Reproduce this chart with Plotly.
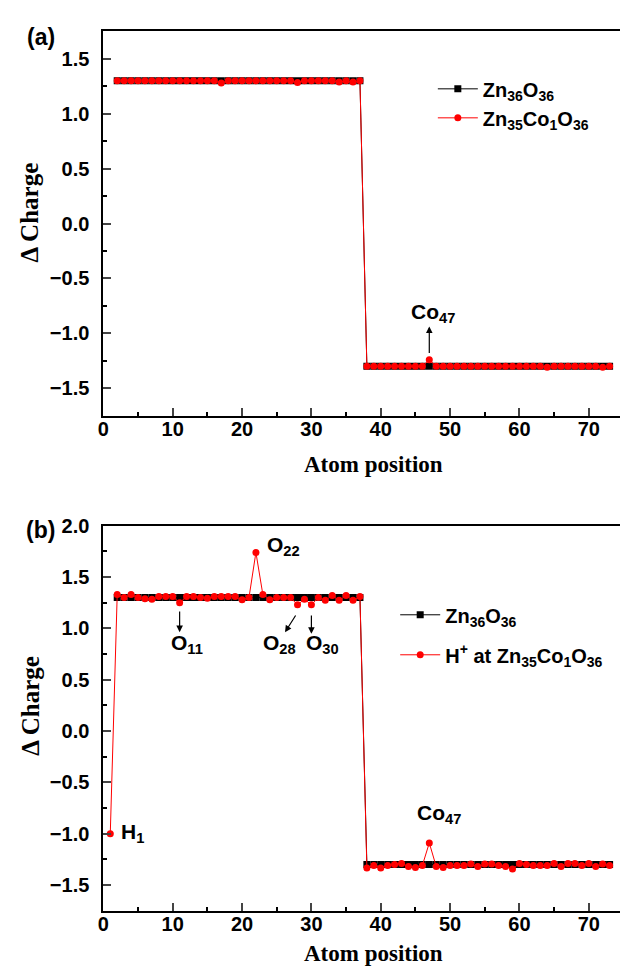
import plotly.graph_objects as go

# ---- data -------------------------------------------------------------
# atom index along the supercell (site 1 is the proton in panel b)
atoms_zno = list(range(2, 74))
atoms_h = list(range(1, 74))

# panel (a): pristine Zn36O36 vs. Co-doped Zn35Co1O36
charge_zno = [
    1.30, 1.30, 1.30, 1.30, 1.30, 1.30, 1.30, 1.30, 1.30, 1.30, 1.30, 1.30,
    1.30, 1.30, 1.30, 1.30, 1.30, 1.30, 1.30, 1.30, 1.30, 1.30, 1.30, 1.30,
    1.30, 1.30, 1.30, 1.30, 1.30, 1.30, 1.30, 1.30, 1.30, 1.30, 1.30, 1.30,
    -1.30, -1.30, -1.30, -1.30, -1.30, -1.30, -1.30, -1.30, -1.30, -1.30, -1.30, -1.30,
    -1.30, -1.30, -1.30, -1.30, -1.30, -1.30, -1.30, -1.30, -1.30, -1.30, -1.30, -1.30,
    -1.30, -1.30, -1.30, -1.30, -1.30, -1.30, -1.30, -1.30, -1.30, -1.30, -1.30, -1.30,
]
charge_co = [
    1.30, 1.30, 1.30, 1.30, 1.30, 1.30, 1.30, 1.30, 1.30, 1.30, 1.30, 1.30,
    1.30, 1.30, 1.30, 1.28, 1.30, 1.30, 1.30, 1.30, 1.30, 1.30, 1.30, 1.30,
    1.30, 1.30, 1.285, 1.30, 1.30, 1.30, 1.30, 1.30, 1.29, 1.30, 1.29, 1.30,
    -1.30, -1.30, -1.30, -1.30, -1.30, -1.30, -1.30, -1.30, -1.30, -1.24, -1.30, -1.30,
    -1.30, -1.30, -1.30, -1.30, -1.30, -1.30, -1.30, -1.30, -1.30, -1.30, -1.30, -1.30,
    -1.30, -1.30, -1.31, -1.30, -1.30, -1.30, -1.30, -1.30, -1.30, -1.30, -1.31, -1.30,
]

# panel (b): proton at site 1 of the Co-doped cell
charge_h = [
    -1.00,
    1.33, 1.30, 1.33, 1.30, 1.29, 1.285, 1.31, 1.31, 1.31, 1.25, 1.31, 1.31,
    1.30, 1.295, 1.31, 1.31, 1.31, 1.31, 1.28, 1.30, 1.74, 1.33, 1.28, 1.30,
    1.30, 1.30, 1.23, 1.285, 1.23, 1.30, 1.275, 1.32, 1.275, 1.32, 1.275, 1.31,
    -1.335, -1.31, -1.335, -1.31, -1.30, -1.29, -1.32, -1.33, -1.31, -1.09, -1.32, -1.33,
    -1.31, -1.31, -1.31, -1.295, -1.32, -1.295, -1.295, -1.31, -1.32, -1.345, -1.29, -1.30,
    -1.31, -1.31, -1.31, -1.29, -1.32, -1.29, -1.29, -1.31, -1.29, -1.32, -1.295, -1.31,
]

x_ticks = [0, 10, 20, 30, 40, 50, 60, 70]
y_ticks_a = [-1.5, -1.0, -0.5, 0.0, 0.5, 1.0, 1.5]
y_ticks_b = [-1.5, -1.0, -0.5, 0.0, 0.5, 1.0, 1.5, 2.0]

name_zno = "Zn<sub>36</sub>O<sub>36</sub>"
name_co = "Zn<sub>35</sub>Co<sub>1</sub>O<sub>36</sub>"
name_h = "H<sup>+</sup> at Zn<sub>35</sub>Co<sub>1</sub>O<sub>36</sub>"

# ---- styling ----------------------------------------------------------
SANS = "Liberation Sans, Arial, Helvetica, sans-serif"
SERIF = "Liberation Serif, Times New Roman, serif"
RED = "#ff0000"
W, H = 620, 968

fig = go.Figure()


def add_pair(xref, yref, legend, red_x, red_y, red_name):
    fig.add_trace(go.Scatter(
        x=atoms_zno, y=charge_zno, mode="lines+markers", name=name_zno,
        xaxis=xref, yaxis=yref, legend=legend, legendgroup=legend + "k",
        line=dict(color="black", width=1),
        marker=dict(symbol="square", size=7, color="black"),
    ))
    fig.add_trace(go.Scatter(
        x=red_x, y=red_y, mode="lines+markers", name=red_name,
        xaxis=xref, yaxis=yref, legend=legend, legendgroup=legend + "r",
        line=dict(color=RED, width=1),
        marker=dict(symbol="circle", size=7, color=RED),
    ))


add_pair("x", "y", "legend", atoms_zno, charge_co, name_co)
add_pair("x2", "y2", "legend2", atoms_h, charge_h, name_h)

tickfont = dict(family=SANS, size=20, color="black", weight="bold")


def xaxis(anchor):
    return dict(
        anchor=anchor, domain=[98.3 / W, 1.0], range=[0, 74.5],
        tickvals=x_ticks, ticks="inside", ticklen=8, tickwidth=1.5,
        minor=dict(dtick=5, ticks="inside", ticklen=4, tickwidth=1.5, tickcolor="black"),
        showline=True, linecolor="black", linewidth=2, mirror=True,
        showgrid=False, zeroline=False, tickfont=tickfont, ticklabelstandoff=-6,
    )


def yaxis(anchor, rng, ticks, top_px, bottom_px):
    return dict(
        anchor=anchor, domain=[1 - bottom_px / H, 1 - top_px / H], range=rng,
        tickvals=ticks, ticktext=[f"{t:.1f}".replace("-", "\u2212") for t in ticks],
        ticks="inside", ticklen=8, tickwidth=1.5,
        minor=dict(dtick=0.25, ticks="inside", ticklen=4, tickwidth=1.5, tickcolor="black"),
        showline=True, linecolor="black", linewidth=2, mirror=False,
        showgrid=False, zeroline=False, tickfont=tickfont, ticklabelstandoff=8,
    )


legend_font = dict(family=SANS, size=20, color="black", weight="bold")

fig.update_layout(
    width=W, height=H, margin=dict(l=0, r=0, t=0, b=0),
    paper_bgcolor="white", plot_bgcolor="white",
    xaxis=xaxis("y"), yaxis=yaxis("x", [-1.75, 1.75], y_ticks_a, 20.7, 409.3),
    xaxis2=xaxis("y2"), yaxis2=yaxis("x2", [-1.75, 2.0], y_ticks_b, 520.7, 910),
    legend=dict(x=431 / W, y=1 - 59 / H, xanchor="left", yanchor="top",
                bgcolor="rgba(0,0,0,0)", font=legend_font, itemwidth=40,
                traceorder="grouped", tracegroupgap=0),
    legend2=dict(x=393 / W, y=1 - 591 / H, xanchor="left", yanchor="top",
                 bgcolor="rgba(0,0,0,0)", font=legend_font, itemwidth=40,
                 traceorder="grouped", tracegroupgap=11),
    showlegend=True,
)

ann_font = dict(family=SANS, size=21, color="black", weight="bold")
annotations = []

# panel letters
for label, py in (("(a)", 26), ("(b)", 525)):
    annotations.append(dict(text=label, x=35 / W, y=1 - py / H, xref="paper", yref="paper",
                            xanchor="center", yanchor="middle", showarrow=False,
                            font=dict(family=SANS, size=23, color="black", weight="bold")))

# axis titles
for py in (459, 953):
    annotations.append(dict(text="Atom position", x=371 / W, y=1 - py / H, xref="paper", yref="paper",
                            xanchor="center", yanchor="middle", showarrow=False,
                            font=dict(family=SERIF, size=23, color="black", weight="bold")))
for py in (204, 703):
    annotations.append(dict(text="\u0394 Charge", x=24 / W, y=1 - py / H, xref="paper", yref="paper",
                            xanchor="center", yanchor="middle", textangle=-90, showarrow=False,
                            font=dict(family=SERIF, size=25, color="black", weight="bold")))

# site labels: (text, x, y, axis suffix)
site_labels = [
    ("Co<sub>47</sub>", 47.5, -0.817, ""),
    ("O<sub>11</sub>", 12.0, 0.85, "2"),
    ("O<sub>22</sub>", 26.0, 1.80, "2"),
    ("O<sub>28</sub>", 25.4, 0.85, "2"),
    ("O<sub>30</sub>", 31.6, 0.85, "2"),
    ("H<sub>1</sub>", 4.2, -0.995, "2"),
    ("Co<sub>47</sub>", 48.4, -0.81, "2"),
]
for text, x, y, ax in site_labels:
    annotations.append(dict(text=text, x=x, y=y, xref="x" + ax, yref="y" + ax,
                            xanchor="center", yanchor="middle", showarrow=False, font=ann_font))

# pointer arrows: (head x, head y, tail x, tail y, axis suffix)
pointers = [
    (47, -0.937, 47, -1.193, ""),
    (11, 0.963, 11, 1.179, "2"),
    (26.2, 0.963, 27.86, 1.14, "2"),
    (30, 0.947, 30, 1.14, "2"),
]
for hx, hy, tx, ty, ax in pointers:
    annotations.append(dict(text="", x=hx, y=hy, ax=tx, ay=ty,
                            xref="x" + ax, yref="y" + ax, axref="x" + ax, ayref="y" + ax,
                            showarrow=True, arrowhead=2, arrowsize=1.1, arrowwidth=1.2,
                            arrowcolor="black", standoff=0, startstandoff=0))

fig.update_layout(annotations=annotations)

fig.write_html("out.html")
